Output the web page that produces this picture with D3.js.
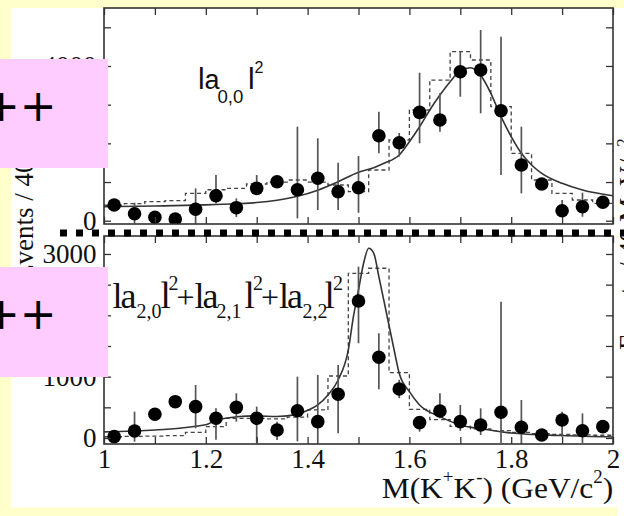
<!DOCTYPE html>
<html><head><meta charset="utf-8">
<script src="https://cdn.jsdelivr.net/npm/d3@7"></script>
<style>html,body{margin:0;padding:0;background:#FFFFCC;} svg{display:block;}</style>
</head><body>
<svg id="chart" width="624" height="516"></svg>
<script>
// ---------- data ----------
const massBins = [1.02,1.06,1.10,1.14,1.18,1.22,1.26,1.30,1.34,1.38,1.42,1.46,1.50,1.54,1.58,1.62,1.66,1.70,1.74,1.78,1.82,1.86,1.90,1.94,1.98];

// top panel: |a00|^2
const topValues  = [406,180,88,44,295,646,337,837,1008,800,1096,750,853,2198,2017,2802,2603,3852,3896,2844,1440,949,259,362,476];
const topErrUp   = [80,285,60,60,540,535,240,344,150,1630,1034,750,820,620,250,1024,691,517,1034,1913,990,100,276,362,80];
const topErrDown = [80,250,60,60,540,200,240,130,150,740,819,473,646,456,362,801,302,646,1119,1663,732,100,150,259,80];
const topHist    = [400,440,491,520,708,800,837,949,1000,1052,1000,923,750,1311,2086,2862,3637,4369,4155,2948,1742,1052,708,535,450];
const topFitMass  = [1.00,1.10,1.20,1.26,1.30,1.34,1.38,1.42,1.46,1.50,1.53,1.55,1.58,1.60,1.62,1.64,1.66,1.68,1.70,1.72,1.74,1.76,1.78,1.80,1.82,1.84,1.86,1.90,1.94,2.00];
const topFitValue = [362,380,410,440,470,530,630,790,1008,1251,1370,1484,1698,2043,2430,2862,3250,3594,3880,3956,3760,3294,2689,2172,1742,1440,1225,967,793,646];

// bottom panel: |a20|^2+|a21|^2+|a22|^2
const botValues  = [22,114,386,592,511,321,500,321,130,445,266,712,2234,1316,799,250,440,266,212,419,174,49,293,119,185];
const botErrUp   = [50,315,0,0,353,163,228,190,136,555,761,478,559,391,150,100,288,272,272,1804,446,40,136,283,60];
const botErrDown = [50,174,0,0,353,350,234,400,163,500,400,636,690,522,150,147,120,150,163,500,300,40,271,200,60];
const botHist    = [20,25,30,40,90,185,320,320,310,340,457,1011,2685,2767,1065,467,300,190,150,120,90,70,60,50,45];
const botFitMass  = [1.00,1.10,1.20,1.22,1.26,1.30,1.34,1.38,1.40,1.42,1.44,1.46,1.48,1.49,1.50,1.51,1.52,1.53,1.54,1.555,1.57,1.58,1.60,1.62,1.66,1.70,1.75,1.80,1.90,2.00];
const botFitValue = [100,130,215,290,345,360,350,385,450,540,700,946,1435,1978,2413,2848,3093,3011,2630,2033,1435,1055,755,538,348,212,140,82,40,16];

// ticks
const xTicks    = [1.0,1.1,1.2,1.3,1.4,1.5,1.6,1.7,1.8,1.9,2.0];
const xTickText = ["1","","1.2","","1.4","","1.6","","1.8","","2"];
const topYTicks  = [0,1000,2000,3000,4000,5000];
const topYLabels = [0,2000,4000];
const botYTicks  = [0,500,1000,1500,2000,2500,3000];
const botYLabels = [0,1000,2000,3000];

// ---------- drawing ----------
const svg = d3.select('#chart');
svg.append('rect').attr('x',0).attr('y',0).attr('width',624).attr('height',516).attr('fill','#FFFFCC');
svg.append('rect').attr('x',11).attr('y',8).attr('width',613).attr('height',499.5).attr('fill','#ffffff');
svg.append('rect').attr('x',618).attr('y',507).attr('width',6).attr('height',9).attr('fill','#ffffff');

const x = d3.scaleLinear().domain([1,2]).range([104,613]);
const binW = massBins[1]-massBins[0];

const panels = [
  {id:'top', y:d3.scaleLinear().domain([-85,5499]).range([224,8]), vals:topValues, up:topErrUp, dn:topErrDown,
   hist:topHist, fm:topFitMass, fv:topFitValue, yt:topYTicks, yl:topYLabels, showX:false},
  {id:'bot', y:d3.scaleLinear().domain([-98,3293]).range([444,236]), vals:botValues, up:botErrUp, dn:botErrDown,
   hist:botHist, fm:botFitMass, fv:botFitValue, yt:botYTicks, yl:botYLabels, showX:true}
];

const defs = svg.append('defs');
const serif = "'Liberation Serif','Times New Roman',serif";

panels.forEach(p => {
  const y = p.y;
  const [yb, yt] = y.range();
  const [xl, xr] = x.range();
  defs.append('clipPath').attr('id','clip-'+p.id).append('rect')
    .attr('x',xl).attr('y',yt).attr('width',xr-xl).attr('height',yb-yt);
  const g = svg.append('g');
  const m = g.append('g').attr('clip-path',`url(#clip-${p.id})`);

  // dashed histogram
  const hp = massBins.map((c,i)=>[c-binW/2, p.hist[i]]);
  hp.push([massBins[massBins.length-1]+binW/2, p.hist[p.hist.length-1]]);
  m.append('path').datum(hp)
    .attr('d', d3.line().x(d=>x(d[0])).y(d=>y(d[1])).curve(d3.curveStepAfter))
    .attr('fill','none').attr('stroke','#444').attr('stroke-width',1.3).attr('stroke-dasharray','4 3');

  // fit curve
  const fp = p.fm.map((mm,i)=>[mm,p.fv[i]]);
  m.append('path').datum(fp)
    .attr('d', d3.line().x(d=>x(d[0])).y(d=>y(d[1])).curve(d3.curveMonotoneX))
    .attr('fill','none').attr('stroke','#333').attr('stroke-width',1.6);

  // error bars
  m.selectAll('line.eb').data(massBins).join('line').attr('class','eb')
    .attr('x1',d=>x(d)).attr('x2',d=>x(d))
    .attr('y1',(d,i)=>y(p.vals[i]-p.dn[i])).attr('y2',(d,i)=>y(p.vals[i]+p.up[i]))
    .attr('stroke','#555').attr('stroke-width',1.7);

  // points
  m.selectAll('circle').data(massBins).join('circle')
    .attr('cx',d=>x(d)).attr('cy',(d,i)=>y(p.vals[i])).attr('r',6.8).attr('fill','#000');

  // axes
  const styleAxis = a => {
    a.select('.domain').remove();
    a.selectAll('.tick line').attr('stroke','#333').attr('stroke-width',1.3);
    a.selectAll('.tick text').attr('fill','#111').style('font-family',serif).style('font-size','27px');
  };
  g.append('g').attr('transform',`translate(${xl},0)`)
    .call(d3.axisLeft(y).tickValues(p.yt).tickSize(-7).tickPadding(7.5).tickFormat(d=>p.yl.includes(d)?String(d):''))
    .call(styleAxis);
  g.append('g').attr('transform',`translate(${xr},0)`)
    .call(d3.axisRight(y).tickValues(p.yt).tickSize(-7).tickFormat(''))
    .call(styleAxis);
  g.append('g').attr('transform',`translate(0,${yb})`)
    .call(d3.axisBottom(x).tickValues(xTicks).tickSize(-7).tickPadding(5).tickFormat((d,i)=>p.showX?xTickText[i]:''))
    .call(styleAxis);
  g.append('g').attr('transform',`translate(0,${yt})`)
    .call(d3.axisTop(x).tickValues(xTicks).tickSize(-7).tickFormat(''))
    .call(styleAxis);
  g.append('rect').attr('x',xl).attr('y',yt).attr('width',xr-xl).attr('height',yb-yt)
    .attr('fill','none').attr('stroke','#333').attr('stroke-width',1.6);
});

// panel labels
const sans = "'Liberation Sans',Arial,sans-serif";
const tl = svg.append('text').attr('fill','#111').style('font-family',sans);
[["l",30,198,89.3],["a",27,204.5,89.3],["0,0",18.6,217.5,103.3],["l",30,248,89.3],["2",16,254.5,73.3]]
  .forEach(([t,fs,xx,yy])=>tl.append('tspan').attr('x',xx).attr('y',yy).style('font-size',fs+'px').text(t));

const bl = svg.append('text').attr('fill','#111').style('font-family',serif);
[["la",36,112.5,308.3,-2],["2,0",20,136.5,317.7,0],["l",37,160.5,308.3,-3],["2",20,168.5,290,0],
 ["+",32,176.5,308.3,0],["la",36,194.5,308.3,-2],["2,1",20,216.5,317.7,0],["l",37,244.5,308.3,-3],["2",20,253,290,0],
 ["+",32,261,308.3,0],["la",36,279,308.3,-2],["2,2",20,302.5,317.7,0],["l",37,324.5,308.3,-3],["2",20,333,290,0]]
  .forEach(([t,fs,xx,yy,ls])=>bl.append('tspan').attr('x',xx).attr('y',yy)
    .style('font-size',fs+'px').style('letter-spacing',ls+'px').text(t));

// x-axis title
const xt = svg.append('text').attr('x',0).attr('y',498.3).attr('fill','#111').style('font-family',serif).style('font-size','30px');
xt.append('tspan').text('M(K');
xt.append('tspan').attr('dy',-15).style('font-size','18px').text('+');
xt.append('tspan').attr('dy',15).text('K');
xt.append('tspan').attr('dy',-15).style('font-size','18px').text('-');
xt.append('tspan').attr('dy',15).text(') (GeV/c');
xt.append('tspan').attr('dy',-15).style('font-size','18px').text('2');
xt.append('tspan').attr('dy',15).text(')');
{
  const bb = xt.node().getBBox();
  const s = (613.3-381.7)/bb.width;
  xt.attr('transform',`translate(381.7,0) scale(${s},1) translate(${-bb.x},0)`);
}

// y-axis titles (left, and fragment of neighbouring plot on right)
function yTitle(xb, ys){
  const t = svg.append('text').attr('transform',`translate(${xb},${ys}) rotate(-90)`)
    .attr('fill','#111').style('font-family',serif).style('font-size','27px');
  t.append('tspan').text('Events / 40 MeV/c');
  t.append('tspan').attr('dy',-10).style('font-size','17px').text('2');
}
yTitle(33,281);
yTitle(638,350);

// dotted separator
svg.append('line').attr('x1',60).attr('x2',630).attr('y1',233).attr('y2',233)
  .attr('stroke','#000').attr('stroke-width',7).attr('stroke-dasharray','7 9');

// pink overlay boxes
[[59,168],[267,377]].forEach(([a,b])=>{
  svg.append('rect').attr('x',0).attr('y',a).attr('width',108).attr('height',b-a).attr('fill','#FFCCFF');
  svg.append('text').attr('x',-17).attr('y',a+62).attr('fill','#000')
    .style('font-family',"'DejaVu Sans',sans-serif").style('font-size','44px').text('++');
});
</script>
</body></html>
